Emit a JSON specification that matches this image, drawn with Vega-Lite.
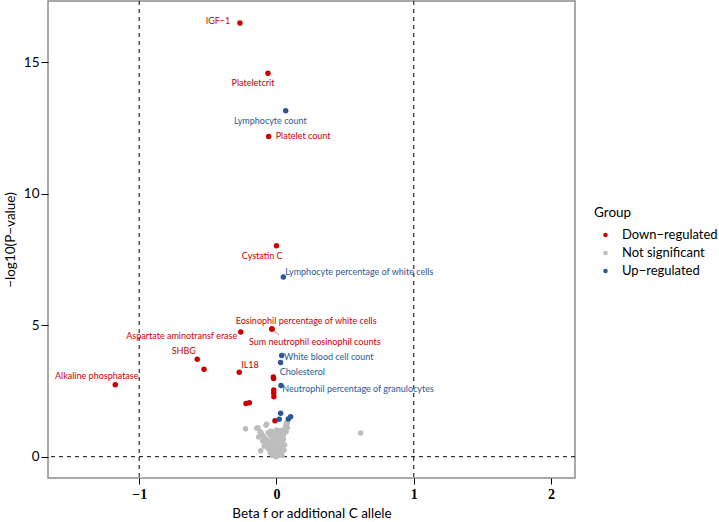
{
  "$schema": "https://vega.github.io/schema/vega-lite/v6.json",
  "width": 527,
  "height": 477,
  "autosize": "none",
  "padding": {"left": 48, "top": 1, "right": 144, "bottom": 44},
  "background": "white",
  "config": {
    "view": {"stroke": "#8c8c8c", "strokeWidth": 1.5},
    "font": "Lato"
  },
  "datasets": {
    "pts": [
      {"beta": -0.225, "logp": 1.066, "group": "Not significant"},
      {"beta": 0.613, "logp": 0.901, "group": "Not significant"},
      {"beta": -0.135, "logp": 1.104, "group": "Not significant"},
      {"beta": -0.144, "logp": 1.08, "group": "Not significant"},
      {"beta": -0.072, "logp": 1.231, "group": "Not significant"},
      {"beta": -0.076, "logp": 1.2, "group": "Not significant"},
      {"beta": -0.12, "logp": 0.952, "group": "Not significant"},
      {"beta": -0.11, "logp": 0.889, "group": "Not significant"},
      {"beta": -0.096, "logp": 0.787, "group": "Not significant"},
      {"beta": -0.084, "logp": 0.698, "group": "Not significant"},
      {"beta": -0.072, "logp": 0.635, "group": "Not significant"},
      {"beta": -0.067, "logp": 0.508, "group": "Not significant"},
      {"beta": -0.057, "logp": 0.445, "group": "Not significant"},
      {"beta": -0.047, "logp": 0.381, "group": "Not significant"},
      {"beta": -0.042, "logp": 0.255, "group": "Not significant"},
      {"beta": -0.028, "logp": 0.191, "group": "Not significant"},
      {"beta": -0.023, "logp": 0.103, "group": "Not significant"},
      {"beta": -0.011, "logp": 0.027, "group": "Not significant"},
      {"beta": -0.004, "logp": 0.001, "group": "Not significant"},
      {"beta": -0.115, "logp": 0.229, "group": "Not significant"},
      {"beta": 0.074, "logp": 1.294, "group": "Not significant"},
      {"beta": 0.079, "logp": 1.27, "group": "Not significant"},
      {"beta": 0.069, "logp": 1.205, "group": "Not significant"},
      {"beta": 0.062, "logp": 1.079, "group": "Not significant"},
      {"beta": 0.055, "logp": 0.952, "group": "Not significant"},
      {"beta": 0.05, "logp": 0.825, "group": "Not significant"},
      {"beta": 0.038, "logp": 0.698, "group": "Not significant"},
      {"beta": 0.026, "logp": 0.571, "group": "Not significant"},
      {"beta": 0.021, "logp": 0.445, "group": "Not significant"},
      {"beta": 0.013, "logp": 0.318, "group": "Not significant"},
      {"beta": 0.006, "logp": 0.191, "group": "Not significant"},
      {"beta": -0.047, "logp": 0.825, "group": "Not significant"},
      {"beta": -0.023, "logp": 0.889, "group": "Not significant"},
      {"beta": 0.001, "logp": 1.015, "group": "Not significant"},
      {"beta": 0.026, "logp": 0.889, "group": "Not significant"},
      {"beta": -0.011, "logp": 0.698, "group": "Not significant"},
      {"beta": -0.035, "logp": 0.571, "group": "Not significant"},
      {"beta": 0.001, "logp": 0.508, "group": "Not significant"},
      {"beta": -0.023, "logp": 0.381, "group": "Not significant"},
      {"beta": 0.026, "logp": 0.381, "group": "Not significant"},
      {"beta": -0.011, "logp": 0.255, "group": "Not significant"},
      {"beta": 0.001, "logp": 0.128, "group": "Not significant"},
      {"beta": -0.06, "logp": 0.3, "group": "Not significant"},
      {"beta": -0.05, "logp": 0.6, "group": "Not significant"},
      {"beta": -0.03, "logp": 0.7, "group": "Not significant"},
      {"beta": -0.02, "logp": 0.5, "group": "Not significant"},
      {"beta": 0.01, "logp": 0.65, "group": "Not significant"},
      {"beta": 0.015, "logp": 0.8, "group": "Not significant"},
      {"beta": 0.03, "logp": 1.0, "group": "Not significant"},
      {"beta": 0.04, "logp": 0.55, "group": "Not significant"},
      {"beta": 0.045, "logp": 0.35, "group": "Not significant"},
      {"beta": 0.035, "logp": 0.2, "group": "Not significant"},
      {"beta": 0.02, "logp": 0.1, "group": "Not significant"},
      {"beta": -0.015, "logp": 0.15, "group": "Not significant"},
      {"beta": -0.035, "logp": 0.1, "group": "Not significant"},
      {"beta": -0.045, "logp": 0.15, "group": "Not significant"},
      {"beta": -0.08, "logp": 0.5, "group": "Not significant"},
      {"beta": -0.09, "logp": 0.4, "group": "Not significant"},
      {"beta": -0.06, "logp": 0.92, "group": "Not significant"},
      {"beta": -0.04, "logp": 0.98, "group": "Not significant"},
      {"beta": 0.008, "logp": 0.85, "group": "Not significant"},
      {"beta": 0.05, "logp": 0.65, "group": "Not significant"},
      {"beta": 0.06, "logp": 0.45, "group": "Not significant"},
      {"beta": 0.055, "logp": 0.25, "group": "Not significant"},
      {"beta": -0.005, "logp": 0.4, "group": "Not significant"},
      {"beta": 0.015, "logp": 0.05, "group": "Not significant"},
      {"beta": -0.025, "logp": 0.05, "group": "Not significant"},
      {"beta": 0.03, "logp": 0.12, "group": "Not significant"},
      {"beta": 0.04, "logp": 0.05, "group": "Not significant"},
      {"beta": -0.1, "logp": 0.6, "group": "Not significant"},
      {"beta": 0.07, "logp": 0.95, "group": "Not significant"},
      {"beta": 0.08, "logp": 1.1, "group": "Not significant"},
      {"beta": -0.13, "logp": 0.75, "group": "Not significant"},
      {"beta": -0.266, "logp": 16.49, "group": "Down−regulated", "label": "IGF−1", "lx": -0.426, "ly": 16.58},
      {"beta": -0.062, "logp": 14.58, "group": "Down−regulated", "label": "Plateletcrit", "lx": -0.171, "ly": 14.2},
      {"beta": -0.057, "logp": 12.18, "group": "Down−regulated", "label": "Platelet count", "lx": 0.194, "ly": 12.19},
      {"beta": 0.0, "logp": 8.02, "group": "Down−regulated", "label": "Cystatin C", "lx": -0.104, "ly": 7.63},
      {"beta": -0.26, "logp": 4.74, "group": "Down−regulated", "label": "Aspartate aminotransf erase", "lx": -0.69, "ly": 4.59},
      {"beta": -0.033, "logp": 4.86, "group": "Down−regulated", "label": "Eosinophil percentage of white cells", "lx": 0.216, "ly": 5.17},
      {"beta": -0.033, "logp": 4.86, "group": "Down−regulated", "label": "Sum neutrophil eosinophil counts", "lx": 0.279, "ly": 4.36, "sx": 0.016, "sy": 4.63},
      {"beta": -0.577, "logp": 3.71, "group": "Down−regulated", "label": "SHBG", "lx": -0.675, "ly": 4.02},
      {"beta": -0.528, "logp": 3.33, "group": "Down−regulated"},
      {"beta": -0.271, "logp": 3.21, "group": "Down−regulated", "label": "IL18", "lx": -0.193, "ly": 3.49},
      {"beta": -1.174, "logp": 2.74, "group": "Down−regulated", "label": "Alkaline phosphatase", "lx": -1.309, "ly": 3.06},
      {"beta": -0.023, "logp": 3.03, "group": "Down−regulated"},
      {"beta": -0.021, "logp": 2.97, "group": "Down−regulated"},
      {"beta": -0.02, "logp": 2.54, "group": "Down−regulated"},
      {"beta": -0.02, "logp": 2.42, "group": "Down−regulated"},
      {"beta": -0.019, "logp": 2.28, "group": "Down−regulated"},
      {"beta": -0.222, "logp": 2.02, "group": "Down−regulated"},
      {"beta": -0.198, "logp": 2.05, "group": "Down−regulated"},
      {"beta": -0.011, "logp": 1.37, "group": "Down−regulated"},
      {"beta": 0.067, "logp": 13.16, "group": "Up−regulated", "label": "Lymphocyte count", "lx": -0.045, "ly": 12.78},
      {"beta": 0.05, "logp": 6.83, "group": "Up−regulated", "label": "Lymphocyte percentage of white cells", "lx": 0.603, "ly": 7.02},
      {"beta": 0.038, "logp": 3.85, "group": "Up−regulated", "label": "White blood cell count", "lx": 0.38, "ly": 3.78},
      {"beta": 0.03, "logp": 3.58, "group": "Up−regulated", "label": "Cholesterol", "lx": 0.188, "ly": 3.21},
      {"beta": 0.033, "logp": 2.71, "group": "Up−regulated", "label": "Neutrophil percentage of granulocytes", "lx": 0.594, "ly": 2.56},
      {"beta": 0.03, "logp": 1.65, "group": "Up−regulated"},
      {"beta": 0.02, "logp": 1.42, "group": "Up−regulated"},
      {"beta": 0.086, "logp": 1.43, "group": "Up−regulated"},
      {"beta": 0.103, "logp": 1.52, "group": "Up−regulated"}
    ],
    "vlines": [{"v": -1}, {"v": 1}],
    "hlines": [{"h": 0}]
  },
  "layer": [
    {
      "data": {"name": "vlines"},
      "mark": {"type": "rule", "color": "black", "strokeDash": [4, 4], "strokeWidth": 1},
      "encoding": {"x": {"field": "v", "type": "quantitative"}}
    },
    {
      "data": {"name": "hlines"},
      "mark": {"type": "rule", "color": "black", "strokeDash": [4, 4], "strokeWidth": 1},
      "encoding": {"y": {"field": "h", "type": "quantitative"}}
    },
    {
      "data": {"name": "pts"},
      "transform": [{"filter": "datum.sx != null"}],
      "mark": {"type": "rule", "color": "#e0262a", "strokeWidth": 0.8},
      "encoding": {
        "x": {"field": "beta", "type": "quantitative"},
        "y": {"field": "logp", "type": "quantitative"},
        "x2": {"field": "sx"},
        "y2": {"field": "sy"}
      }
    },
    {
      "data": {"name": "pts"},
      "mark": {"type": "point", "filled": true, "opacity": 1, "size": 30},
      "encoding": {
        "x": {
          "field": "beta", "type": "quantitative",
          "scale": {"domain": [-1.664, 2.174], "nice": false, "zero": false},
          "axis": {
            "values": [-1, 0, 1, 2], "format": "d", "title": "Beta f or additional C allele",
            "grid": false, "domain": false, "tickColor": "black", "tickSize": 6, "tickWidth": 1,
            "labelFont": "Liberation Serif", "labelFontWeight": "bold", "labelFontSize": 14, "labelColor": "black", "labelPadding": 3,
            "titleFont": "Lato", "titleFontSize": 13.5, "titleFontWeight": "normal", "titleColor": "black", "titlePadding": 5
          }
        },
        "y": {
          "field": "logp", "type": "quantitative",
          "scale": {"domain": [-0.81, 17.33], "nice": false, "zero": false},
          "axis": {
            "values": [0, 5, 10, 15], "title": "−log10(P−value)",
            "grid": false, "domain": false, "tickColor": "black", "tickSize": 7, "tickWidth": 1,
            "labelFont": "Lato", "labelFontSize": 13.5, "labelColor": "black", "labelPadding": 2,
            "titleFont": "Lato", "titleFontSize": 13.5, "titleFontWeight": "normal", "titleColor": "black", "titlePadding": 6
          }
        },
        "color": {
          "field": "group", "type": "nominal",
          "scale": {"domain": ["Down−regulated", "Not significant", "Up−regulated"], "range": ["#cc0000", "#bdbdbd", "#2b5797"]},
          "legend": {
            "title": "Group", "orient": "none", "legendX": 546, "legendY": 205,
            "titleFont": "Lato", "titleFontSize": 13.5, "titleFontWeight": "normal", "titleColor": "black", "titlePadding": 9,
            "labelFont": "Lato", "labelFontSize": 13, "labelColor": "black", "labelOffset": 10,
            "symbolType": "circle", "symbolSize": 20, "rowPadding": 4, "symbolOffset": 5
          }
        }
      }
    },
    {
      "data": {"name": "pts"},
      "transform": [{"filter": "datum.label != null"}],
      "mark": {"type": "text", "fontSize": 9, "font": "Lato", "align": "center", "baseline": "middle"},
      "encoding": {
        "x": {"field": "lx", "type": "quantitative"},
        "y": {"field": "ly", "type": "quantitative"},
        "text": {"field": "label"},
        "color": {"field": "group", "type": "nominal", "legend": null}
      }
    }
  ]
}
